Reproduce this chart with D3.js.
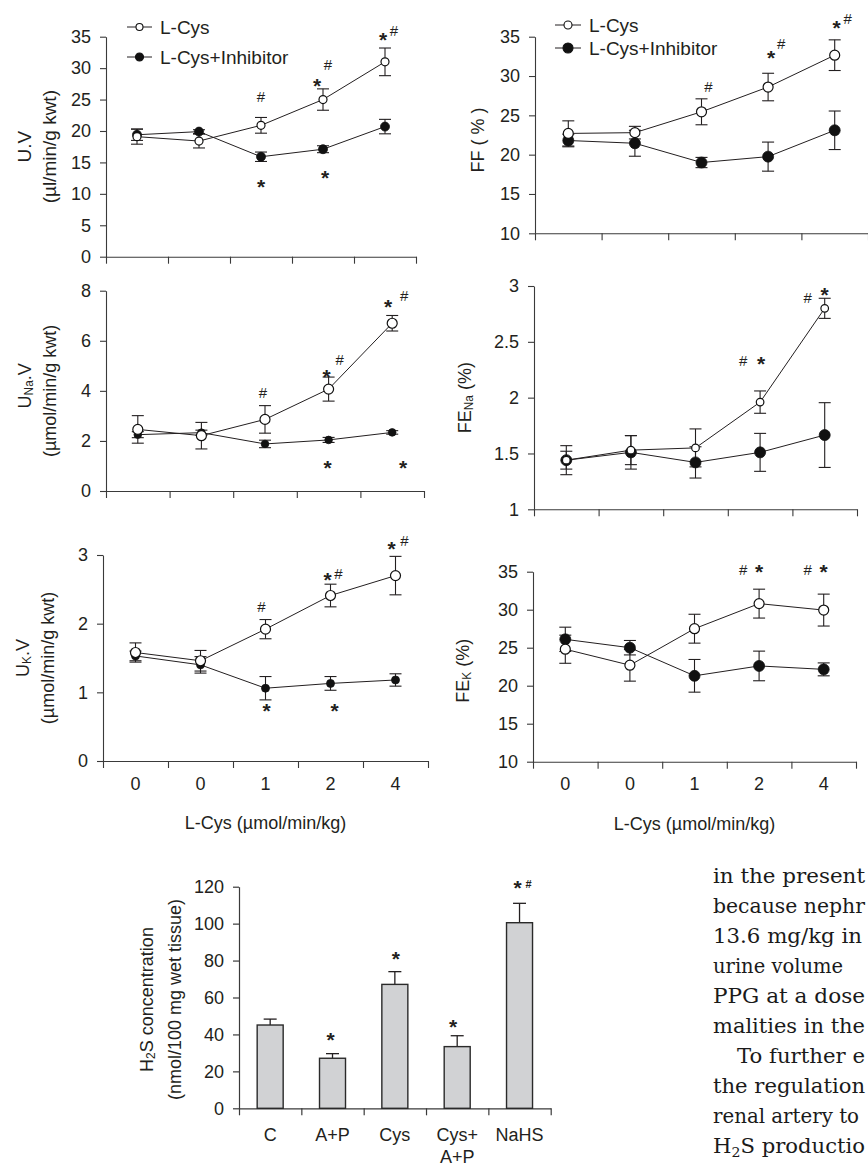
<!DOCTYPE html>
<html>
<head>
<meta charset="utf-8">
<script src="https://cdn.jsdelivr.net/npm/d3@7"></script>
<style>
  html, body { margin: 0; padding: 0; background: #fff; }
  svg { display: block; }
</style>
</head>
<body>
<script>
// ---------------- DATA ----------------
const xLabels = ["0", "0", "1", "2", "4"];
const seriesNames = ["L-Cys", "L-Cys+Inhibitor"];
const xTitle = "L-Cys (\u00B5mol/min/kg)";

// U.V (µl/min/g kwt)
const uvCys = [19.1, 18.4, 20.9, 25.0, 31.0];
const uvCysErr = [1.2, 1.1, 1.25, 1.7, 2.2];
const uvInh = [19.4, 19.9, 15.9, 17.1, 20.7];
const uvInhErr = [0.9, 0.3, 0.75, 0.55, 1.15];

// FF (%)
const ffCys = [22.7, 22.8, 25.45, 28.6, 32.65];
const ffCysErr = [1.6, 0.8, 1.65, 1.75, 1.95];
const ffInh = [21.8, 21.45, 19.0, 19.75, 23.1];
const ffInhErr = [0.8, 1.65, 0.65, 1.85, 2.45];

// UNa.V (µmol/min/g kwt)
const unaCys = [2.46, 2.21, 2.86, 4.07, 6.70];
const unaCysErr = [0.55, 0.53, 0.55, 0.48, 0.31];
const unaInh = [2.25, 2.33, 1.88, 2.04, 2.34];
const unaInhErr = [0.12, 0.1, 0.15, 0.1, 0.07];

// FENa (%)
const fenaCys = [1.44, 1.53, 1.55, 1.96, 2.80];
const fenaCysErr = [0.13, 0.13, 0.17, 0.1, 0.09];
const fenaInh = [1.44, 1.51, 1.42, 1.51, 1.665];
const fenaInhErr = [0.08, 0.15, 0.14, 0.17, 0.29];

// UK.V (µmol/min/g kwt)
const ukCys = [1.58, 1.46, 1.92, 2.41, 2.70];
const ukCysErr = [0.14, 0.15, 0.14, 0.165, 0.28];
const ukInh = [1.53, 1.40, 1.06, 1.13, 1.18];
const ukInhErr = [0.07, 0.12, 0.17, 0.1, 0.09];

// FEK (%)
const fekCys = [24.8, 22.7, 27.5, 30.8, 29.95];
const fekCysErr = [1.85, 2.1, 1.9, 1.9, 2.1];
const fekInh = [26.1, 25.0, 21.3, 22.6, 22.15];
const fekInhErr = [1.6, 0.95, 2.15, 1.95, 0.85];

// significance marks: [point index, symbol, value level, x shift]
const uvMarks = [[2,"#",25.4,0],[2,"*",11.9,0],[3,"*",27.9,-6],[3,"#",30.6,5],[3,"*",13.3,2],[4,"*",35.2,-2],[4,"#",35.9,9]];
const ffMarks = [[2,"#",28.7,7],[3,"*",32.9,3],[3,"#",34.1,13],[4,"*",36.8,2],[4,"#",37.3,13]];
const unaMarks = [[2,"#",3.93,-2],[3,"*",4.76,-2],[3,"#",5.23,11],[4,"*",7.56,-4],[4,"#",7.79,12],[3,"*",1.13,-1],[4,"*",1.13,11]];
const fenaMarks = [[3,"#",2.33,-17],[3,"*",2.35,1],[4,"#",2.90,-17],[4,"*",2.96,0]];
const ukMarks = [[2,"#",2.25,-4],[2,"*",0.80,1],[3,"*",2.71,-3],[3,"#",2.73,8],[3,"*",0.80,4],[4,"*",3.16,-4],[4,"#",3.21,9]];
const fekMarks = [[3,"#",35.3,-16],[3,"*",35.6,0],[4,"#",35.3,-16],[4,"*",35.6,0]];

// H2S bar chart
const barLabels = [["C"], ["A+P"], ["Cys"], ["Cys+", "A+P"], ["NaHS"]];
const h2s = [45.1, 27.1, 67.1, 33.4, 100.5];
const h2sErr = [3.2, 2.5, 6.9, 5.9, 10.5];
const barMarks = [[1,"*",39.7,-2],[2,"*",83.4,1],[3,"*",46.9,-4],[4,"*",122.1,-2],[4,"#s",121.4,9]];

// body text (right column, visible part only)
const bodyLines = ["in the present", "because nephr", "13.6 mg/kg in", "urine volume",
  "PPG at a dose", "malities in the", "To further e", "the regulation", "renal artery to", "H2S productio"];

// ---------------- DRAW ----------------
const W = 868, H = 1166;
const FONT = "'Liberation Sans', Arial, Helvetica, sans-serif";
const INK = "#231f20";

const svg = d3.select("body").append("svg")
  .attr("width", W).attr("height", H)
  .style("font-family", FONT);
svg.append("rect").attr("width", W).attr("height", H).attr("fill", "#fff");

function rotLabel(x, y, segs, size) {
  const t = svg.append("text")
    .attr("transform", `translate(${x},${y}) rotate(-90)`)
    .attr("text-anchor", "middle")
    .attr("fill", INK)
    .style("font-size", size + "px");
  let prevSub = false;
  segs.forEach(s => {
    const ts = t.append("tspan").text(s.t);
    if (s.sub) { ts.style("font-size", (size * 0.66) + "px").attr("dy", 2); prevSub = true; }
    else if (prevSub) { ts.attr("dy", -2); prevSub = false; }
  });
}

function mark(x, y, sym) {
  // y is visual centre of the glyph
  let size, off, s = sym, bold = false;
  if (sym === "*") { size = 21; off = 0.57 * 21; bold = true; }
  else if (sym === "#") { size = 15; off = 0.36 * 15; }
  else { s = "#"; size = 11; off = 0.36 * 11; bold = true; }
  svg.append("text").attr("x", x).attr("y", y + off)
    .attr("text-anchor", "middle").attr("fill", INK)
    .style("font-weight", bold ? "bold" : "normal")
    .style("font-size", size + "px").text(s);
}

function linePanel(c) {
  const y = d3.scaleLinear().domain(c.domain).range([c.yBot, c.yTop]);
  const xb = d3.scaleBand().domain(d3.range(xLabels.length)).range([c.x0, c.x1]);
  const xl = d3.scaleLinear().domain([0, xLabels.length]).range([c.x0, c.x1]);
  const cx = i => xb(i) + xb.bandwidth() / 2;

  // y axis
  const ya = svg.append("g").attr("transform", `translate(${c.x0},0)`)
    .call(d3.axisLeft(y).tickValues(c.ticks).tickSize(6).tickSizeOuter(0).tickPadding(9)
      .tickFormat(d3.format(c.fmt || "")));
  ya.selectAll("path, line").attr("stroke", "#3a3a3a").attr("stroke-width", 1.1);
  ya.selectAll("text").attr("fill", INK).style("font-size", "18px").style("font-family", FONT);

  // x axis (band boundaries)
  const xa = svg.append("g").attr("transform", `translate(0,${c.yBot})`)
    .call(d3.axisBottom(xl).tickValues(d3.range(xLabels.length + 1)).tickSize(7).tickSizeOuter(0).tickFormat(""));
  xa.selectAll("path, line").attr("stroke", "#3a3a3a").attr("stroke-width", 1.1);

  if (c.showX) {
    const xt = svg.append("g").attr("transform", `translate(0,${c.yBot + 16})`)
      .call(d3.axisBottom(xb).tickSize(0).tickPadding(0).tickFormat(i => xLabels[i]));
    xt.select(".domain").remove();
    xt.selectAll("text").attr("fill", INK).style("font-size", "18px").style("font-family", FONT);
    svg.append("text").attr("x", (c.x0 + c.x1) / 2).attr("y", c.yBot + 68)
      .attr("text-anchor", "middle").attr("fill", INK).style("font-size", "18px").text(xTitle);
  }

  // series: inhibitor (filled) first, then L-Cys (open)
  const series = [
    { v: c.inh, e: c.inhErr, open: false, r: c.rInh },
    { v: c.cys, e: c.cysErr, open: true, r: c.rCys }
  ];
  const g = svg.append("g");
  series.forEach(s => {
    s.v.forEach((v, i) => {
      const x = cx(i);
      g.append("line").attr("x1", x).attr("x2", x).attr("y1", y(v - s.e[i])).attr("y2", y(v + s.e[i]))
        .attr("stroke", INK).attr("stroke-width", 1.1);
      [v - s.e[i], v + s.e[i]].forEach(w => {
        g.append("line").attr("x1", x - 6).attr("x2", x + 6).attr("y1", y(w)).attr("y2", y(w))
          .attr("stroke", INK).attr("stroke-width", 1.1);
      });
    });
  });
  series.forEach(s => {
    const line = d3.line().x((d, i) => cx(i)).y(d => y(d));
    g.append("path").attr("d", line(s.v)).attr("fill", "none").attr("stroke", INK).attr("stroke-width", 1);
  });
  series.forEach(s => {
    g.selectAll(null).data(s.v).enter().append("circle")
      .attr("cx", (d, i) => cx(i)).attr("cy", d => y(d)).attr("r", s.r)
      .attr("fill", s.open ? "#fff" : "#111").attr("stroke", "#111").attr("stroke-width", s.open ? 1.2 : 0.8);
  });

  // significance marks
  c.marks.forEach(m => mark(cx(m[0]) + m[3], y(m[2]), m[1]));

  // y label
  c.labels.forEach(l => rotLabel(l.x, (c.yTop + c.yBot) / 2 + (l.dy || 0), l.segs, l.size || 18));

  // legend
  if (c.legend) {
    const L = c.legend;
    seriesNames.forEach((name, k) => {
      const yy = L.y + k * L.gap;
      svg.append("line").attr("x1", L.x).attr("x2", L.x + L.len).attr("y1", yy).attr("y2", yy)
        .attr("stroke", INK).attr("stroke-width", 1);
      svg.append("circle").attr("cx", L.x + L.len / 2).attr("cy", yy).attr("r", k === 0 ? L.r0 : L.r1)
        .attr("fill", k === 0 ? "#fff" : "#111").attr("stroke", "#111").attr("stroke-width", 1.1);
      svg.append("text").attr("x", L.x + L.len + 8).attr("y", yy + 7).attr("fill", INK)
        .style("font-size", "19px").text(name);
    });
  }
}

// Panel 1: U.V
linePanel({ x0: 106, x1: 416, yTop: 36.7, yBot: 256.7, domain: [0, 35], ticks: d3.range(0, 36, 5),
  cys: uvCys, cysErr: uvCysErr, inh: uvInh, inhErr: uvInhErr, rCys: 4, rInh: 4.5, marks: uvMarks,
  labels: [{ x: 31, size: 19, segs: [{ t: "U.V" }] }, { x: 56, size: 19, segs: [{ t: "(\u00B5l/min/g kwt)" }] }],
  legend: { x: 127, y: 27, gap: 30, len: 25, r0: 3.5, r1: 4 } });

// Panel 2: FF
linePanel({ x0: 535, x1: 868, yTop: 36.7, yBot: 233.3, domain: [10, 35], ticks: d3.range(10, 36, 5),
  cys: ffCys, cysErr: ffCysErr, inh: ffInh, inhErr: ffInhErr, rCys: 5, rInh: 5.5, marks: ffMarks,
  labels: [{ x: 484, dy: 5, segs: [{ t: "FF ( % )" }] }],
  legend: { x: 555, y: 25, gap: 23, len: 26, r0: 4, r1: 5 } });

// Panel 3: UNa.V
linePanel({ x0: 106, x1: 424, yTop: 290.7, yBot: 491, domain: [0, 8], ticks: [0, 2, 4, 6, 8],
  cys: unaCys, cysErr: unaCysErr, inh: unaInh, inhErr: unaInhErr, rCys: 5, rInh: 3.8, marks: unaMarks,
  labels: [{ x: 31, dy: -5, segs: [{ t: "U" }, { t: "Na", sub: true }, { t: ".V" }] },
           { x: 56, segs: [{ t: "(\u00B5mol/min/g kwt)" }] }] });

// Panel 4: FENa
linePanel({ x0: 534, x1: 857, yTop: 286, yBot: 509.3, domain: [1, 3], ticks: [1, 1.5, 2, 2.5, 3],
  cys: fenaCys, cysErr: fenaCysErr, inh: fenaInh, inhErr: fenaInhErr, rCys: 3.8, rInh: 5.5, marks: fenaMarks,
  labels: [{ x: 471, segs: [{ t: "FE" }, { t: "Na", sub: true }, { t: " (%)" }] }] });

// Panel 5: UK.V
linePanel({ x0: 103, x1: 428, yTop: 555, yBot: 761, domain: [0, 3], ticks: [0, 1, 2, 3],
  cys: ukCys, cysErr: ukCysErr, inh: ukInh, inhErr: ukInhErr, rCys: 5, rInh: 4, marks: ukMarks, showX: true,
  labels: [{ x: 28.5, segs: [{ t: "U" }, { t: "K", sub: true }, { t: ".V" }] },
           { x: 54, segs: [{ t: "(\u00B5mol/min/g kwt)" }] }] });

// Panel 6: FEK
linePanel({ x0: 533, x1: 856, yTop: 571.7, yBot: 761.7, domain: [10, 35], ticks: d3.range(10, 36, 5),
  cys: fekCys, cysErr: fekCysErr, inh: fekInh, inhErr: fekInhErr, rCys: 5, rInh: 5.5, marks: fekMarks, showX: true,
  labels: [{ x: 469, dy: 4, segs: [{ t: "FE" }, { t: "K", sub: true }, { t: " (%)" }] }] });

// ---------------- BAR CHART ----------------
(function () {
  const x0 = 239, x1 = 550.7, yTop = 886.7, yBot = 1108.3;
  const y = d3.scaleLinear().domain([0, 120]).range([yBot, yTop]);
  const xb = d3.scaleBand().domain(d3.range(h2s.length)).range([x0, x1]);
  const xl = d3.scaleLinear().domain([0, h2s.length]).range([x0, x1]);
  const bw = 26;

  const ya = svg.append("g").attr("transform", `translate(${x0},0)`)
    .call(d3.axisLeft(y).tickValues(d3.range(0, 121, 20)).tickSize(6).tickSizeOuter(0).tickPadding(9));
  ya.selectAll("path, line").attr("stroke", "#3a3a3a").attr("stroke-width", 1.2);
  ya.selectAll("text").attr("fill", INK).style("font-size", "18px").style("font-family", FONT);

  const xa = svg.append("g").attr("transform", `translate(0,${yBot})`)
    .call(d3.axisBottom(xl).tickValues(d3.range(h2s.length + 1)).tickSize(7).tickSizeOuter(0).tickFormat(""));
  xa.selectAll("path, line").attr("stroke", "#3a3a3a").attr("stroke-width", 1.2);

  const cx = i => xb(i) + xb.bandwidth() / 2;
  h2s.forEach((v, i) => {
    const x = cx(i);
    svg.append("line").attr("x1", x).attr("x2", x).attr("y1", y(v)).attr("y2", y(v + h2sErr[i]))
      .attr("stroke", INK).attr("stroke-width", 1.3);
    svg.append("line").attr("x1", x - 6.5).attr("x2", x + 6.5).attr("y1", y(v + h2sErr[i])).attr("y2", y(v + h2sErr[i]))
      .attr("stroke", INK).attr("stroke-width", 1.3);
  });
  svg.selectAll(null).data(h2s).enter().append("rect")
    .attr("x", (d, i) => cx(i) - bw / 2).attr("width", bw)
    .attr("y", d => y(d)).attr("height", d => yBot - y(d))
    .attr("fill", "#d1d2d4").attr("stroke", "#2a2a2a").attr("stroke-width", 1.4);

  barLabels.forEach((lines, i) => {
    lines.forEach((t, k) => {
      svg.append("text").attr("x", cx(i)).attr("y", 1141 + k * 22).attr("text-anchor", "middle")
        .attr("fill", INK).style("font-size", "18px").text(t);
    });
  });
  barMarks.forEach(m => mark(cx(m[0]) + m[3], y(m[2]), m[1]));

  // y label
  const t1 = svg.append("text").attr("transform", `translate(153,${(yTop + yBot) / 2 + 2}) rotate(-90)`)
    .attr("text-anchor", "middle").attr("fill", INK).style("font-size", "18px");
  t1.append("tspan").text("H");
  t1.append("tspan").text("2").style("font-size", "12px").attr("dy", 2);
  t1.append("tspan").text("S concentration").attr("dy", -2);
  svg.append("text").attr("transform", `translate(181,${(yTop + yBot) / 2 + 2}) rotate(-90)`)
    .attr("text-anchor", "middle").attr("fill", INK).style("font-size", "18px")
    .text("(nmol/100 mg wet tissue)");
})();

// ---------------- BODY TEXT ----------------
const bodyStart = [713, 713, 713, 713, 713, 713, 737, 713, 713, 713];
const bodyEnd = [865, 865, 862, null, 865, 865, 865, 865, 859, 865];
bodyLines.forEach((t, i) => {
  const tx = svg.append("text").attr("x", bodyStart[i]).attr("y", 883 + i * 30)
    .attr("fill", "#1a1a1a").style("font-family", "'DejaVu Serif', 'Liberation Serif', serif")
    .style("font-size", "19.5px");
  if (bodyEnd[i] !== null) {
    tx.attr("textLength", bodyEnd[i] - bodyStart[i]).attr("lengthAdjust", "spacingAndGlyphs");
  }
  if (t.startsWith("H2S")) {
    tx.append("tspan").text("H");
    tx.append("tspan").text("2").style("font-size", "13px").attr("dy", 4);
    tx.append("tspan").text(t.slice(2)).attr("dy", -4);
  } else {
    tx.text(t);
  }
});
</script>
</body>
</html>
